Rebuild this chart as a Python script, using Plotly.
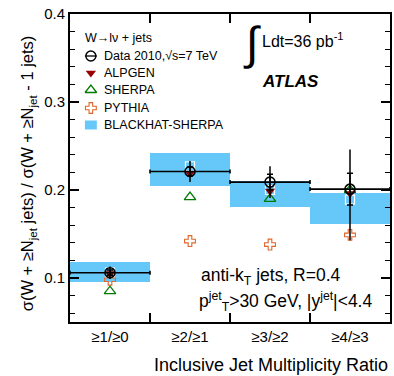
import plotly.graph_objects as go

# Inclusive jet multiplicity ratios, W -> l nu + jets
categories = ["≥1/≥0", "≥2/≥1", "≥3/≥2", "≥4/≥3"]
bins = [1, 2, 3, 4]

data_val = [0.106, 0.221, 0.209, 0.201]
data_err_up = [0.007, 0.012, 0.018, 0.045]
data_err_dn = [0.007, 0.012, 0.018, 0.058]
data_stat = [0.003, 0.005, 0.009, 0.018]

alpgen = [0.105, 0.219, 0.199, 0.196]
sherpa = [0.085, 0.192, 0.190, 0.200]
pythia = [0.098, 0.142, 0.138, 0.149]

blackhat = [0.106, 0.227, 0.200, 0.189]
blackhat_lo = [0.096, 0.2045, 0.181, 0.161]
blackhat_hi = [0.1177, 0.242, 0.2105, 0.197]

BAND = "#66c8f8"
RED = "#990000"
GREEN = "#007a00"
ORANGE = "#e0662a"
FONT = "Liberation Sans, Arial, sans-serif"

# plot-area pixel frame used for placing legend / labels
L, R, T, B = 70, 392, 14, 322


def px(x):
    return (x - L) / (R - L)


def py(y):
    return (B - y) / (B - T)


fig = go.Figure()

# BLACKHAT-SHERPA uncertainty band
fig.add_trace(go.Bar(
    x=bins, y=[h - l for h, l in zip(blackhat_hi, blackhat_lo)], base=blackhat_lo,
    width=1.0, marker=dict(color=BAND, line=dict(width=0)), showlegend=False,
))
fig.add_trace(go.Scatter(
    x=bins, y=blackhat, mode="markers", showlegend=False,
    marker=dict(symbol="square-open", size=9, color="white", line=dict(width=1.2, color="white")),
))

fig.add_trace(go.Scatter(
    x=bins, y=pythia, mode="markers", showlegend=False,
    marker=dict(symbol="cross-open", size=9, color=ORANGE, line=dict(width=1.1, color=ORANGE)),
))
fig.add_trace(go.Scatter(
    x=bins, y=sherpa, mode="markers", showlegend=False,
    marker=dict(symbol="triangle-up-open", size=10, color=GREEN, line=dict(width=1.3, color=GREEN)),
))
fig.add_trace(go.Scatter(
    x=bins, y=alpgen, mode="markers", showlegend=False,
    marker=dict(symbol="triangle-down", size=9, color=RED, line=dict(width=0)),
))

# data: total uncertainty, bin width, and statistical caps
fig.add_trace(go.Scatter(
    x=bins, y=data_val, mode="markers", showlegend=False,
    marker=dict(symbol="circle-open", size=10, color="black", line=dict(width=1.6, color="black")),
    error_y=dict(type="data", symmetric=False, array=data_err_up, arrayminus=data_err_dn,
                 color="black", thickness=1.5, width=0),
    error_x=dict(type="constant", value=0.5, color="black", thickness=1.6, width=2),
))
fig.add_trace(go.Scatter(
    x=bins, y=data_val, mode="markers", showlegend=False,
    marker=dict(size=1, color="rgba(0,0,0,0)"),
    error_y=dict(type="data", array=data_stat, color="black", thickness=1.5, width=3),
))

# legend symbols on an overlay frame in [0,1] coordinates
leg_x = px(91)
fig.add_trace(go.Scatter(x=[px(85), px(97)], y=[py(56), py(56)], mode="lines",
                         line=dict(color="black", width=1.3), xaxis="x2", yaxis="y2",
                         showlegend=False, hoverinfo="skip"))
fig.add_trace(go.Scatter(x=[leg_x], y=[py(56)], mode="markers", xaxis="x2", yaxis="y2",
                         showlegend=False, hoverinfo="skip",
                         marker=dict(symbol="circle-open", size=10, color="black",
                                     line=dict(width=1.4, color="black"))))
fig.add_trace(go.Scatter(x=[leg_x], y=[py(73)], mode="markers", xaxis="x2", yaxis="y2",
                         showlegend=False, hoverinfo="skip",
                         marker=dict(symbol="triangle-down", size=9, color=RED)))
fig.add_trace(go.Scatter(x=[leg_x], y=[py(90)], mode="markers", xaxis="x2", yaxis="y2",
                         showlegend=False, hoverinfo="skip",
                         marker=dict(symbol="triangle-up-open", size=10, color=GREEN,
                                     line=dict(width=1.3, color=GREEN))))
fig.add_trace(go.Scatter(x=[leg_x], y=[py(108)], mode="markers", xaxis="x2", yaxis="y2",
                         showlegend=False, hoverinfo="skip",
                         marker=dict(symbol="cross-open", size=9, color=ORANGE,
                                     line=dict(width=1.1, color=ORANGE))))
fig.add_shape(type="rect", xref="paper", yref="paper",
              x0=px(85), x1=px(97), y0=py(129.5), y1=py(120.5),
              fillcolor=BAND, line=dict(width=0), layer="above")
fig.add_trace(go.Scatter(x=[leg_x], y=[py(125)], mode="markers", xaxis="x2", yaxis="y2",
                         showlegend=False, hoverinfo="skip",
                         marker=dict(symbol="square-open", size=5, color="white",
                                     line=dict(width=1.2, color="white"))))

annotations = []


def text(x, y, s, size, xanchor="left", **kw):
    annotations.append(dict(x=px(x), y=py(y), xref="paper", yref="paper", text=s,
                            showarrow=False, xanchor=xanchor, yanchor="middle",
                            font=dict(family=FONT, size=size, color="black"), **kw))


text(83, 38, "W→lν + jets", 12.5)
text(102, 56, "Data 2010,√s=7 TeV", 12.5)
text(102, 73, "ALPGEN", 12.5)
text(102, 90, "SHERPA", 12.5)
text(102, 108, "PYTHIA", 12.5)
text(102, 125, "BLACKHAT-SHERPA", 12.5)

text(253, 43, "∫", 46, xanchor="center")
text(261, 40, "Ldt=36 pb<sup>-1</sup>", 16)
text(292, 81, "<b><i>ATLAS</i></b>", 17, xanchor="center")
text(200, 276, "anti-k<sub>T</sub> jets, R=0.4", 17.5)
text(198, 301, "p<sup>jet</sup><sub>T</sub>>30 GeV, |y<sup>jet</sup>|<4.4", 17.5)

text(392, 365, "Inclusive Jet Multiplicity Ratio", 18, xanchor="right")
text(28, 173, "σ(W + ≥N<sub>jet</sub> jets) / σ(W + ≥N<sub>jet</sub> - 1 jets)", 16.5,
     xanchor="center", textangle=-90)

fig.update_layout(
    width=394, height=376,
    margin=dict(l=L, r=394 - R, t=T, b=376 - B),
    paper_bgcolor="white", plot_bgcolor="white",
    showlegend=False, bargap=0,
    font=dict(family=FONT, color="black"),
    annotations=annotations,
    xaxis=dict(
        range=[0.5, 4.5], tickvals=bins, ticktext=categories, ticks="",
        tickfont=dict(size=15), showgrid=False, zeroline=False,
        showline=True, linecolor="black", linewidth=1.8, mirror="ticks",
        minor=dict(tickvals=[1.5, 2.5, 3.5], ticks="inside", ticklen=9,
                   tickcolor="black", tickwidth=1.5, showgrid=False),
    ),
    yaxis=dict(
        range=[0.05, 0.4], tickvals=[0.1, 0.2, 0.3, 0.4], tickformat=".1f",
        ticks="inside", ticklen=9, tickwidth=1.5, tickcolor="black",
        tickfont=dict(size=15), showgrid=False, zeroline=False,
        showline=True, linecolor="black", linewidth=1.8, mirror="ticks",
        minor=dict(dtick=0.02, tick0=0.0, ticks="inside", ticklen=5,
                   tickcolor="black", tickwidth=1.3, showgrid=False),
    ),
    xaxis2=dict(overlaying="x", range=[0, 1], visible=False),
    yaxis2=dict(overlaying="y", range=[0, 1], visible=False),
)

fig.write_html("out.html")
